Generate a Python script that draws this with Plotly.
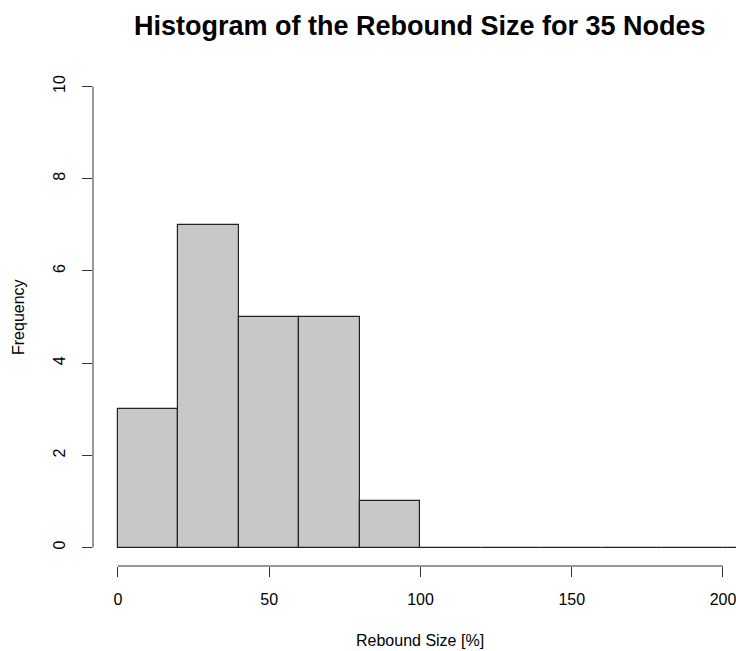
import plotly.graph_objects as go

# Data: histogram of rebound size, bins of width 20
bin_left = [0, 20, 40, 60, 80, 100, 120, 140, 160, 180, 200, 220]
counts = [3, 7, 5, 5, 1, 0, 0, 0, 0, 0, 0, 0]
bin_width = 20
x_ticks = [0, 50, 100, 150, 200]
y_ticks = [0, 2, 4, 6, 8, 10]

title = "Histogram of the Rebound Size for 35 Nodes"
x_title = "Rebound Size [%]"
y_title = "Frequency"

FONT = "Liberation Sans, Arial, Helvetica, sans-serif"

centers = [b + bin_width / 2 for b in bin_left]

fig = go.Figure()
fig.add_trace(go.Bar(
    x=centers, y=counts, width=[bin_width] * len(counts),
    marker=dict(color="#c8c8c8", line=dict(color="#222222", width=1.2)),
    hoverinfo="skip",
))

W, H = 736, 651
ml, mr, mt, mb = 93, 0, 68, 85

fig.update_layout(
    width=W, height=H,
    margin=dict(l=ml, r=mr, t=mt, b=mb, pad=0),
    plot_bgcolor="white", paper_bgcolor="white",
    showlegend=False, bargap=0,
    font=dict(family=FONT, color="black", size=16),
    xaxis=dict(
        range=[-8.26, 204.3], tickvals=x_ticks, ticktext=[str(v) for v in x_ticks],
        ticks="outside", ticklen=10, tickcolor="#333333", tickwidth=1,
        showgrid=False, zeroline=False, showline=False,
        tickfont=dict(size=16, family=FONT), ticklabelstandoff=9,
        ticklabeloverflow="allow",
    ),
    yaxis=dict(
        range=[-0.4, 10.4], tickvals=y_ticks, ticktext=[str(v) for v in y_ticks],
        ticks="outside", ticklen=10, tickcolor="#333333", tickwidth=1,
        showgrid=False, zeroline=False, showline=False, tickangle=-90,
        tickfont=dict(size=16, family=FONT), ticklabelstandoff=11,
    ),
)

# R-style axis lines spanning first to last tick
fig.add_shape(type="line", xref="x", yref="paper", x0=x_ticks[0], x1=x_ticks[-1],
              y0=0, y1=0, line=dict(color="#333333", width=1))
fig.add_shape(type="line", xref="paper", yref="y", x0=0, x1=0,
              y0=y_ticks[0], y1=y_ticks[-1], line=dict(color="#333333", width=1))

# Titles
fig.add_annotation(text="<b>" + title + "</b>", xref="paper", yref="paper",
                   x=(420 - ml) / (W - ml - mr), y=(H - 26 - mb) / (H - mt - mb),
                   showarrow=False, font=dict(size=27, family=FONT),
                   xanchor="center", yanchor="middle")
fig.add_annotation(text=x_title, xref="x", yref="paper",
                   x=100, y=(H - 640 - mb) / (H - mt - mb),
                   showarrow=False, font=dict(size=16, family=FONT),
                   xanchor="center", yanchor="middle")
fig.add_annotation(text=y_title, xref="paper", yref="y",
                   x=(18 - ml) / (W - ml - mr), y=5,
                   showarrow=False, textangle=-90, font=dict(size=16, family=FONT),
                   xanchor="center", yanchor="middle")

fig.write_html("out.html")
